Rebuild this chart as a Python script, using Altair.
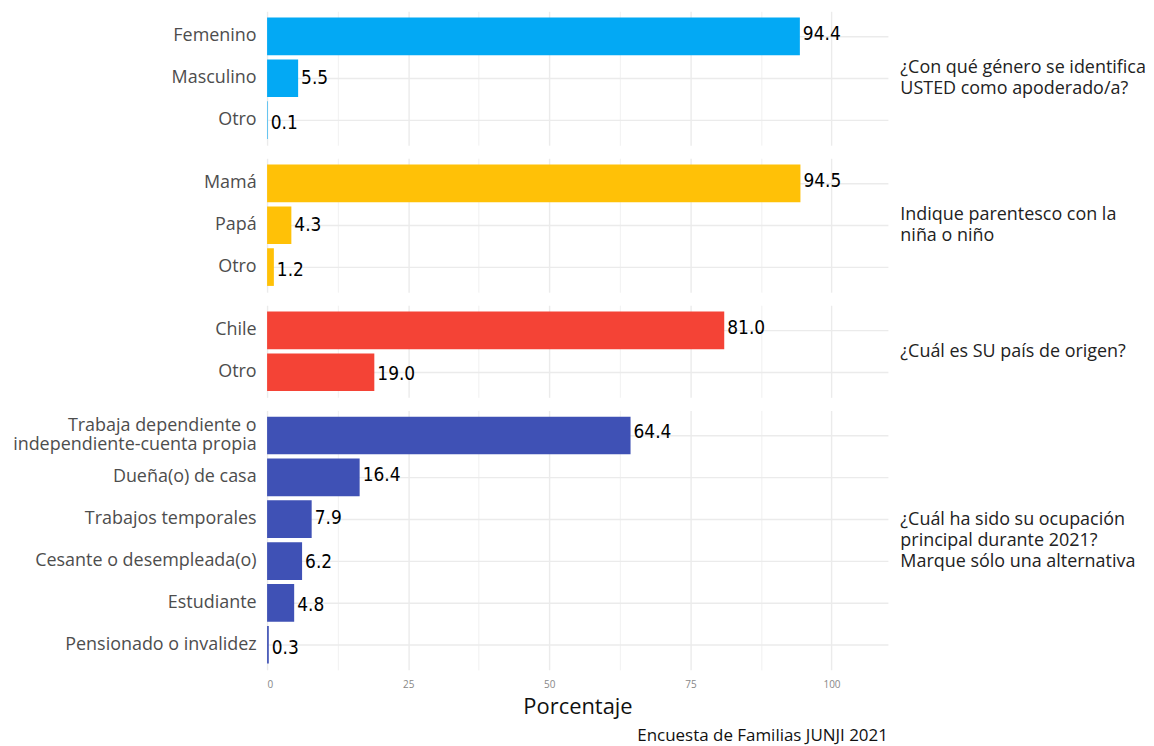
import altair as alt
import pandas as pd

preguntas = [
    "¿Con qué género se identifica|USTED como apoderado/a?",
    "Indique parentesco con la|niña o niño",
    "¿Cuál es SU país de origen?",
    "¿Cuál ha sido su ocupación|principal durante 2021?|Marque sólo una alternativa",
]
colores = ["#03A9F4", "#FFC107", "#F44336", "#3F51B5"]

cat_genero = ["Femenino", "Masculino", "Otro"]
val_genero = [94.4, 5.5, 0.1]
cat_parentesco = ["Mamá", "Papá", "Otro"]
val_parentesco = [94.5, 4.3, 1.2]
cat_pais = ["Chile", "Otro"]
val_pais = [81.0, 19.0]
cat_ocupacion = [
    "Trabaja dependiente o|independiente-cuenta propia",
    "Dueña(o) de casa",
    "Trabajos temporales",
    "Cesante o desempleada(o)",
    "Estudiante",
    "Pensionado o invalidez",
]
val_ocupacion = [64.4, 16.4, 7.9, 6.2, 4.8, 0.3]

x_ticks = [0, 12.5, 25, 37.5, 50, 62.5, 75, 87.5, 100]
caption = "Encuesta de Familias JUNJI 2021"

rows = []
for p, cats, vals in zip(
    preguntas,
    [cat_genero, cat_parentesco, cat_pais, cat_ocupacion],
    [val_genero, val_parentesco, val_pais, val_ocupacion],
):
    for i, (c, v) in enumerate(zip(cats, vals)):
        rows.append({"pregunta": p, "categoria": c, "valor": v, "orden": i})
df = pd.DataFrame(rows)

label_font = "Open Sans"
num_font = "Liberation Sans Narrow, DejaVu Sans Condensed, Roboto"
STEP = 42
WIDTH = 623
LEFT_LH = 20
RIGHT_LH = 21


def band_scale():
    return alt.Scale(paddingInner=0.1, paddingOuter=0.15)


def x_encoding(last):
    common = dict(
        values=x_ticks,
        ticks=False,
        domain=False,
        grid=True,
        gridColor="#ebebeb",
        gridWidth={"condition": {"test": "datum.value % 25 !== 0", "value": 0.7}, "value": 1.4},
    )
    if last:
        axis = alt.Axis(
            labelExpr="datum.value % 25 == 0 ? datum.label : ''",
            title="Porcentaje",
            titleFont=label_font,
            titleFontSize=22,
            titleFontWeight="normal",
            titleColor="#111111",
            titlePadding=7,
            labelFont=label_font,
            labelFontSize=10,
            labelColor="#888888",
            labelPadding=10,
            **common,
        )
    else:
        axis = alt.Axis(labels=False, title=None, **common)
    return alt.X("valor:Q", scale=alt.Scale(domain=[0, 110], nice=False, zero=True), axis=axis)


def panel(i, last=False):
    sub = df[df["pregunta"] == preguntas[i]]
    n = len(sub)
    nlines = len(preguntas[i].split("|"))
    y_sort = alt.EncodingSortField("orden", op="min")
    bars = alt.Chart(sub).mark_bar(color=colores[i]).encode(
        y=alt.Y(
            "categoria:N",
            sort=y_sort,
            scale=band_scale(),
            axis=alt.Axis(
                orient="left",
                title=None,
                labelFont=label_font,
                labelFontSize=18,
                labelColor="#4d4d4d",
                labelPadding=11,
                labelLimit=0,
                labelExpr="split(datum.label, '|')",
                labelLineHeight=LEFT_LH,
                labelOffset={
                    "condition": {"test": "indexof(datum.value, '|') >= 0", "value": -LEFT_LH / 2},
                    "value": 0,
                },
                ticks=False,
                domain=False,
                grid=True,
                gridColor="#ebebeb",
                gridWidth=1.4,
                bandPosition=0.5,
            ),
        ),
        x=x_encoding(last),
    )
    text = alt.Chart(sub).mark_text(
        align="left", baseline="middle", dx=3, font=num_font, fontSize=19, color="#000000"
    ).encode(
        y=alt.Y("categoria:N", sort=y_sort, scale=band_scale(), axis=None),
        x=alt.X("valor:Q"),
        text=alt.Text("valor:Q", format=".1f"),
    )
    lab = alt.Chart(sub).mark_point(opacity=0).encode(
        y=alt.Y(
            "pregunta:N",
            scale=alt.Scale(paddingInner=0, paddingOuter=0),
            axis=alt.Axis(
                orient="right",
                title=None,
                labelFont=label_font,
                labelFontSize=18,
                labelColor="#222222",
                labelPadding=12,
                labelLimit=0,
                labelAlign="left",
                labelExpr="split(datum.label, '|')",
                labelLineHeight=RIGHT_LH,
                labelOffset=-(nlines - 1) * RIGHT_LH / 2,
                ticks=False,
                domain=False,
                grid=False,
            ),
        ),
    )
    props = dict(width=WIDTH, height=STEP * (n + 0.2))
    if last:
        props["title"] = alt.Title(
            caption,
            orient="bottom",
            anchor="end",
            frame="group",
            font=label_font,
            fontSize=17,
            fontWeight="normal",
            color="#111111",
            offset=10,
        )
    return alt.layer(bars, text, lab).resolve_scale(y="independent").properties(**props)


chart = (
    alt.vconcat(panel(0), panel(1), panel(2), panel(3, last=True), spacing=12.5, bounds="flush")
    .properties(padding={"top": 2, "left": 4, "right": 0, "bottom": 0})
    .configure(background="white")
    .configure_view(stroke="transparent", strokeWidth=0)
)

chart.save("out.html", embed_options={"renderer": "svg", "actions": False})
